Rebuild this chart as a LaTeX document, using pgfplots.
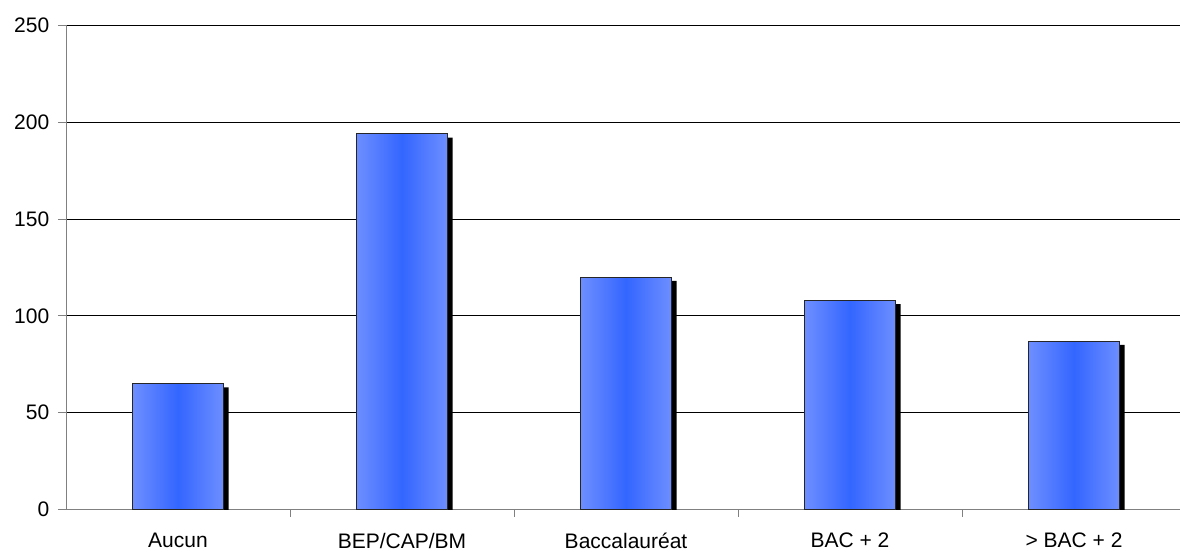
\documentclass[border=0pt]{standalone}
\usepackage{pgfplots}
\pgfplotsset{compat=1.18}
\usepackage{fontspec}
\setmainfont{Liberation Sans}
\definecolor{barlight}{RGB}{110,142,255}
\definecolor{barmid}{RGB}{51,102,255}
\definecolor{axisgray}{RGB}{128,128,128}
\pgfplotsset{mybar/.style={ybar, bar shift=0pt, bar width=0.404, draw=black!85, line width=0.75pt,
  shading=axis, left color=barlight, right color=barlight, middle color=barmid}}
\begin{document}
\begin{tikzpicture}
\begin{axis}[
  scale only axis,
  width=835.5pt, height=363.2pt,
  at={(0,0)}, anchor=south west,
  xmin=-0.5, xmax=4.473,
  ymin=0, ymax=250,
  axis lines*=left,
  axis line style={axisgray, line width=0.75pt},
  xtick={0,1,2,3,4},
  xticklabels={Aucun, BEP/CAP/BM, Baccalauréat, BAC + 2, > BAC + 2},
  minor xtick={0.5,1.5,2.5,3.5},
  ytick={0,50,100,150,200,250},
  ymajorgrids,
  major grid style={black, line width=0.75pt},
  tick align=outside,
  major tick length=6pt,
  minor tick length=5.25pt,
  x tick style={draw=none},
  minor x tick style={draw=axisgray, line width=0.75pt},
  y tick style={axisgray, line width=0.75pt},
  tick label style={font=\fontsize{15.75}{18}\selectfont},
  /pgf/number format/assume math mode=true,
  xticklabel style={anchor=north, yshift=-8pt},
  yticklabel style={anchor=east, xshift=-3pt},
  clip=true,
]
\addplot[ybar, bar shift=0pt, bar width=0.404, fill=black, draw=none, xshift=4pt, yshift=-2.8pt]
  coordinates {(0,65) (1,194) (2,120) (3,108) (4,87)};
\addplot[mybar] coordinates {(0,65)};
\addplot[mybar] coordinates {(1,194)};
\addplot[mybar] coordinates {(2,120)};
\addplot[mybar] coordinates {(3,108)};
\addplot[mybar] coordinates {(4,87)};
\end{axis}
\pgfresetboundingbox
\path[use as bounding box] (-49.5pt,-31.9pt) rectangle (835.5pt,382.2pt);
\end{tikzpicture}
\end{document}
